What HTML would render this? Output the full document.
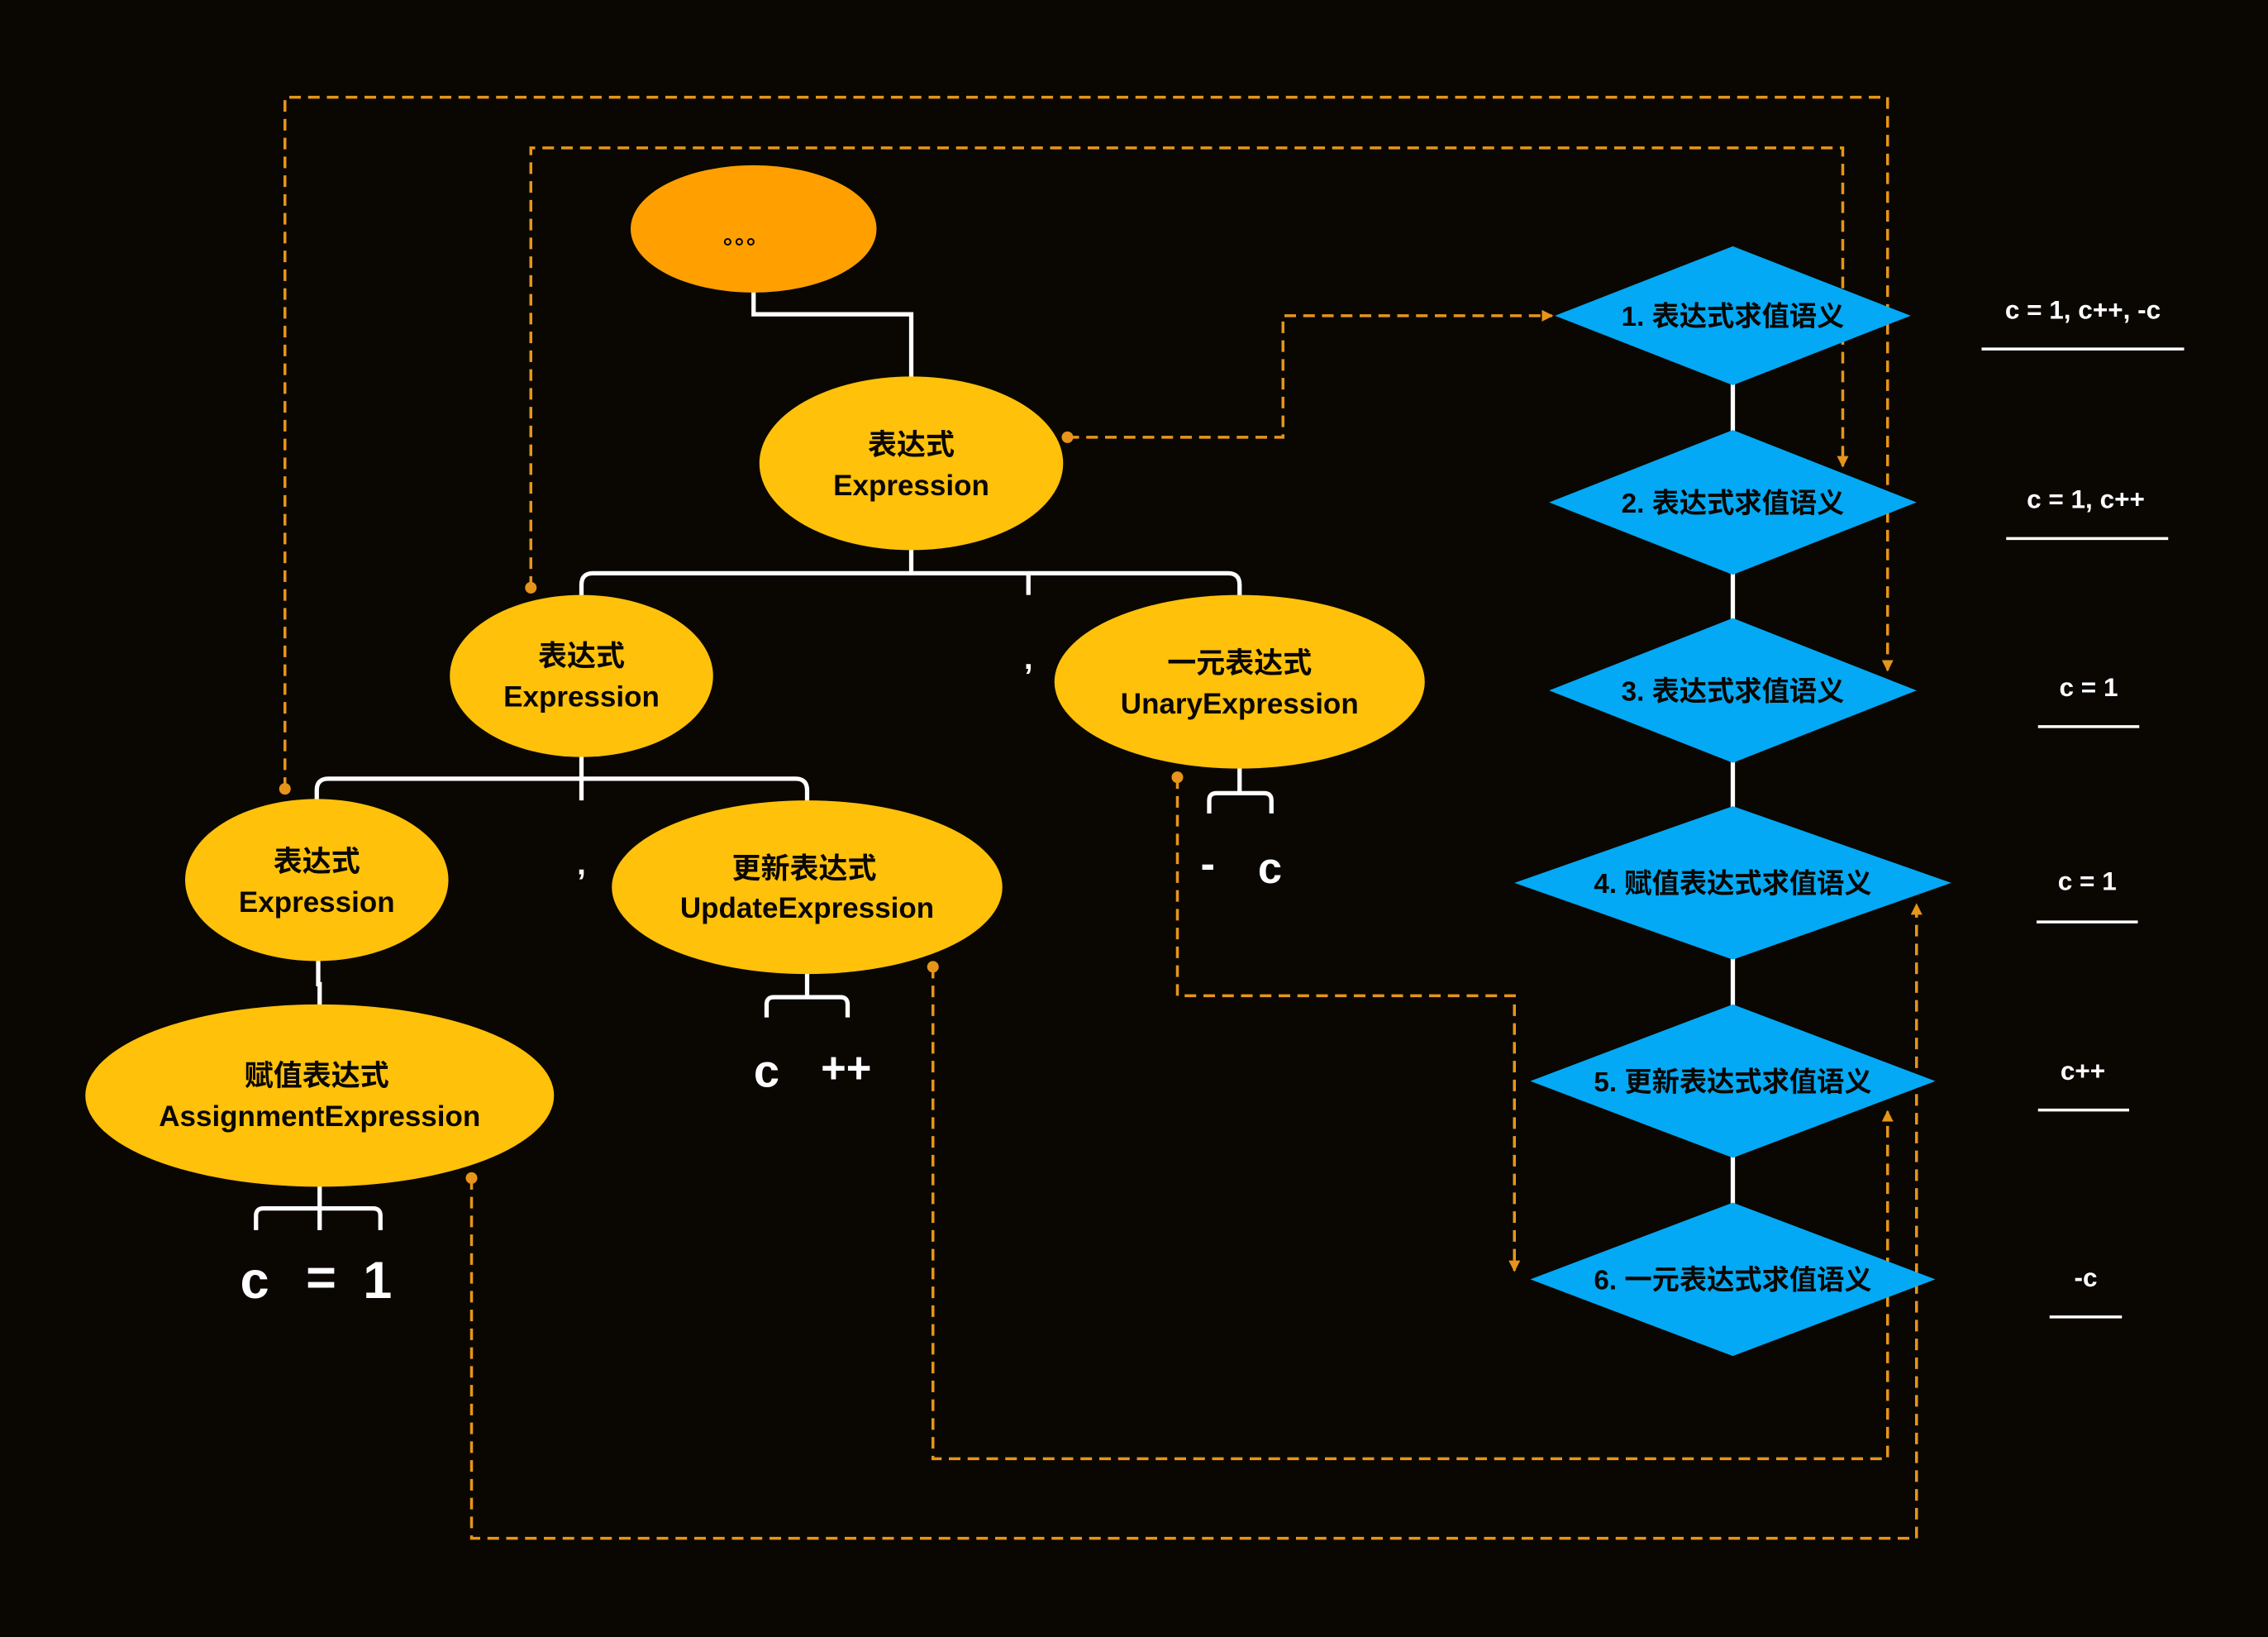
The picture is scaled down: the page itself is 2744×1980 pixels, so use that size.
<!DOCTYPE html>
<html><head><meta charset="utf-8"><style>
html,body{margin:0;padding:0;background:#0a0703;}
svg{display:block;}
text{font-family:"Liberation Sans","Noto Sans CJK SC",sans-serif;font-weight:bold;}
</style></head><body>
<svg width="2744" height="1980" viewBox="0 0 1568 1131" xmlns="http://www.w3.org/2000/svg">
<rect width="1568" height="1131" fill="#0a0703"/>
<defs>
<marker id="ar" markerWidth="8" markerHeight="8" refX="7" refY="4" orient="auto" markerUnits="userSpaceOnUse">
<path d="M0,0 L8,4 L0,8 z" fill="#e6951a"/></marker>
</defs>
<!-- white tree connectors -->
<g stroke="#fff" stroke-width="3" fill="none">
<path d="M521,200 V217 H630 V262"/>
<path d="M630,378 V396"/>
<path d="M402,412 V404 Q402,396 410,396 H849 Q857,396 857,404 V412"/>
<path d="M711,396 Q711,398 711,411"/>
<path d="M402,521 V538"/>
<path d="M219,554 V546 Q219,538 227,538 H550 Q558,538 558,546 V554"/>
<path d="M402,538 V553"/>
<path d="M220,663 V680 H221 V696"/>
<path d="M857,530 V548 M836,562 V553 Q836,548 841,548 H874 Q879,548 879,553 V562"/>
<path d="M558,672 V689 M530,703 V694 Q530,689 535,689 H581 Q586,689 586,694 V703"/>
<path d="M221,819 V850 M177,850 V840 Q177,835 182,835 H258 Q263,835 263,840 V850"/>
<path d="M1198,218 V884"/>
</g>
<!-- dashed connectors -->
<g stroke="#e6951a" stroke-width="2" fill="none" stroke-dasharray="8,5">
<path d="M738,302 H887 V218 H1073" marker-end="url(#ar)"/>
<path d="M197,545 V67 H1305 V463" marker-end="url(#ar)"/>
<path d="M367,406 V102 H1274 V322" marker-end="url(#ar)"/>
<path d="M814,537 V688 H1047 V878" marker-end="url(#ar)"/>
<path d="M645,668 V1008 H1305 V768" marker-end="url(#ar)"/>
<path d="M326,814 V1063 H1325 V625" marker-end="url(#ar)"/>
</g>
<g fill="#e6951a">
<circle cx="738" cy="302" r="4"/><circle cx="197" cy="545" r="4"/><circle cx="367" cy="406" r="4"/>
<circle cx="814" cy="537" r="4"/><circle cx="645" cy="668" r="4"/><circle cx="326" cy="814" r="4"/>
</g>
<!-- ellipses -->
<ellipse cx="521" cy="158" rx="85" ry="44" fill="#ffa000"/>
<text x="516" y="168" font-size="16" fill="#0a0703" text-anchor="middle">。。。</text>
<g fill="#ffc10a">
<ellipse cx="630" cy="320" rx="105" ry="60"/>
<ellipse cx="402" cy="467" rx="91" ry="56"/>
<ellipse cx="857" cy="471" rx="128" ry="60"/>
<ellipse cx="219" cy="608" rx="91" ry="56"/>
<ellipse cx="558" cy="613" rx="135" ry="60"/>
<ellipse cx="221" cy="757" rx="162" ry="63"/>
</g>
<g fill="#0a0703" font-size="20" text-anchor="middle">
<text x="630" y="314">表达式</text><text x="630" y="342">Expression</text>
<text x="402" y="460">表达式</text><text x="402" y="488">Expression</text>
<text x="857" y="465">一元表达式</text><text x="857" y="493">UnaryExpression</text>
<text x="219" y="602">表达式</text><text x="219" y="630">Expression</text>
<text x="556" y="607">更新表达式</text><text x="558" y="634">UpdateExpression</text>
<text x="219" y="750">赋值表达式</text><text x="221" y="778">AssignmentExpression</text>
</g>
<g fill="#fff" text-anchor="middle">
<text x="711" y="462" font-size="22">,</text>
<text x="402" y="604" font-size="22">,</text>
<text x="835" y="607" font-size="30">-</text><text x="878" y="610" font-size="30">c</text>
<text x="530" y="751" font-size="32">c</text><text x="585" y="748" font-size="30">++</text>
<text x="176" y="897" font-size="36">c</text><text x="222" y="895" font-size="36">=</text><text x="261" y="897" font-size="36">1</text>
</g>
<!-- diamonds -->
<g fill="#03a9f4">
<polygon points="1075,218 1198,170 1321,218 1198,266"/>
<polygon points="1071,347 1198,297 1325,347 1198,397"/>
<polygon points="1071,477 1198,427 1325,477 1198,527"/>
<polygon points="1047,610 1198,557 1349,610 1198,663"/>
<polygon points="1058,747 1198,694 1338,747 1198,800"/>
<polygon points="1058,884 1198,831 1338,884 1198,937"/>
</g>
<g fill="#0a0703" font-size="19" text-anchor="middle">
<text x="1198" y="225">1. 表达式求值语义</text>
<text x="1198" y="354">2. 表达式求值语义</text>
<text x="1198" y="484">3. 表达式求值语义</text>
<text x="1198" y="617">4. 赋值表达式求值语义</text>
<text x="1198" y="754">5. 更新表达式求值语义</text>
<text x="1198" y="891">6. 一元表达式求值语义</text>
</g>
<g fill="#fff" font-size="18" text-anchor="middle">
<text x="1440" y="220">c = 1, c++, -c</text>
<text x="1442" y="351">c = 1, c++</text>
<text x="1444" y="481">c = 1</text>
<text x="1443" y="615">c = 1</text>
<text x="1440" y="746">c++</text>
<text x="1442" y="889">-c</text>
</g>
<g stroke="#fff" stroke-width="2">
<line x1="1370" y1="241" x2="1510" y2="241"/>
<line x1="1387" y1="372" x2="1499" y2="372"/>
<line x1="1409" y1="502" x2="1479" y2="502"/>
<line x1="1408" y1="637" x2="1478" y2="637"/>
<line x1="1409" y1="767" x2="1472" y2="767"/>
<line x1="1417" y1="910" x2="1467" y2="910"/>
</g>
</svg>
</body></html>
